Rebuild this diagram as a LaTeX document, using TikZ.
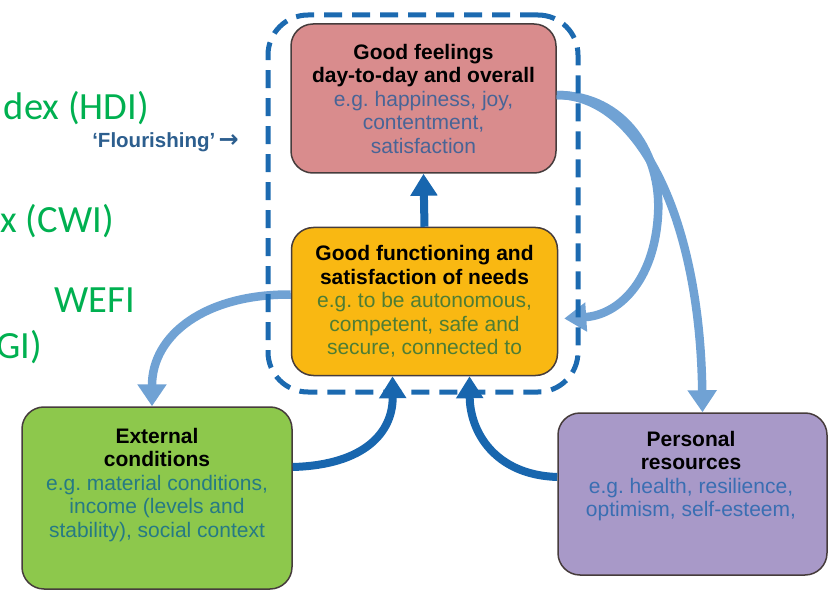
\documentclass[tikz,border=0pt]{standalone}
\usepackage{fontspec}
\setmainfont{Liberation Sans}
\newfontfamily\calibfont{Carlito}
\newfontfamily\arrowfont{DejaVu Sans}
\usetikzlibrary{arrows.meta}
\definecolor{pinkfill}{RGB}{217,140,141}
\definecolor{pinktext}{RGB}{72,100,150}
\definecolor{yellowfill}{RGB}{249,184,18}
\definecolor{yellowtext}{RGB}{78,125,52}
\definecolor{greenfill}{RGB}{141,200,76}
\definecolor{greentext}{RGB}{38,122,132}
\definecolor{purplefill}{RGB}{168,153,200}
\definecolor{purpletext}{RGB}{58,110,178}
\definecolor{boxline}{RGB}{70,60,60}
\definecolor{darkblue}{RGB}{24,102,174}
\definecolor{lightblue}{RGB}{112,162,212}
\definecolor{framecol}{RGB}{28,106,176}
\definecolor{officegreen}{RGB}{0,176,80}
\definecolor{flourishcol}{RGB}{44,94,142}
\frenchspacing
\begin{document}
\begin{tikzpicture}[x=1pt,y=-1pt,
  box/.style={draw=boxline, line width=1.5pt, rounded corners=22pt, inner sep=0pt},
  boxtext/.style={align=center, font=\fontsize{21}{23.5}\selectfont},
  bigtext/.style={text=officegreen, font=\calibfont\fontsize{38.5}{44}\selectfont, inner sep=0pt},
  darkarrow/.style={draw=darkblue, line width=8pt, -{Triangle[width=26pt,length=22pt]}},
  lightarrow/.style={draw=lightblue, line width=8.5pt, -{Triangle[width=28pt,length=22pt]}},
  flourframe/.style={draw=framecol, line width=5pt, dash pattern=on 18pt off 10pt, rounded corners=40pt, inner sep=0pt}]
\useasboundingbox (0,0) rectangle (828,591);

% left green text
\node[bigtext, anchor=base east] (hdi) at (149,120) {dex (HDI)};
\node[bigtext, anchor=base east] (cwi) at (114,233) {x (CWI)};
\node[bigtext, anchor=base east] (wefi) at (135,312) {WEFI};
\node[bigtext, anchor=base east] (ggi) at (42,358) {GI)};

\node[anchor=base east, inner sep=0pt, text=flourishcol, font=\bfseries\fontsize{20.5}{22}\selectfont] (flour) at (239,148) {‘Flourishing’\,{\arrowfont\bfseries\fontsize{24}{24}\selectfont →}};

% boxes
\node[box, fill=pinkfill, minimum width=265pt, minimum height=149pt, boxtext] (feel) at (423.5,98.5)
  {\textbf{Good feelings}\\ \textbf{day-to-day and overall}\\ \textcolor{pinktext}{e.g. happiness, joy,}\\ \textcolor{pinktext}{contentment,}\\ \textcolor{pinktext}{satisfaction}};
\node[box, fill=yellowfill, minimum width=266pt, minimum height=148pt, boxtext] (func) at (424.5,301.5)
  {\textbf{Good functioning and}\\ \textbf{satisfaction of needs}\\ \textcolor{yellowtext}{e.g. to be autonomous,}\\ \textcolor{yellowtext}{competent, safe and}\\ \textcolor{yellowtext}{secure, connected to}};
\node[box, fill=greenfill, minimum width=270pt, minimum height=182pt] (ext) at (157,498) {};
\node[boxtext] (exttext) at (157,485)
  {\textbf{External}\\ \textbf{conditions}\\ \textcolor{greentext}{e.g. material conditions,}\\ \textcolor{greentext}{income (levels and}\\ \textcolor{greentext}{stability), social context}};
\node[box, fill=purplefill, minimum width=269pt, minimum height=162pt] (pers) at (692.5,494) {};
\node[boxtext] (perstext) at (691,476)
  {\textbf{Personal}\\ \textbf{resources}\\ \textcolor{purpletext}{e.g. health, resilience,}\\ \textcolor{purpletext}{optimism, self-esteem,}};

% light blue arrows
\draw[lightarrow] ([yshift=3.5pt]feel.east) .. controls (640,95) and (700,220) .. ([xshift=10pt]pers.north);
\draw[lightarrow] ([yshift=3.5pt]feel.east) .. controls (625,95) and (662,155) .. (658,215)
   .. controls (654,282) and (618,315) .. ([xshift=6pt,yshift=-17pt]func.east);
\draw[lightarrow] ([yshift=7pt]func.west) .. controls (205,294) and (152,335) .. ([xshift=-5pt]ext.north);

% frame
\node[flourframe, minimum width=310pt, minimum height=377pt] (frame) at (423,203.5) {};

% dark blue arrows
\draw[darkarrow] (func.north) -- (feel.south);
\draw[darkarrow] ([yshift=31pt]ext.east) .. controls (365,465) and (393,432) .. ([xshift=-32pt]func.south);
\draw[darkarrow] ([yshift=17pt]pers.west) .. controls (495,475) and (470,432) .. ([xshift=45pt]func.south);
\end{tikzpicture}
\end{document}
